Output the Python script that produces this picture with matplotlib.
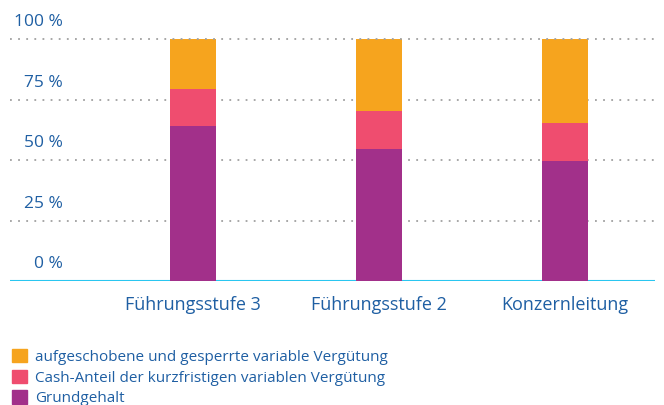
import matplotlib.pyplot as plt
from matplotlib.patches import Patch

plt.rcParams['font.family'] = ['Open Sans', 'DejaVu Sans']

categories = ['Führungsstufe 3', 'Führungsstufe 2', 'Konzernleitung']
grundgehalt = [64.0, 54.5, 49.6]
cash_anteil = [15.3, 15.7, 15.7]
aufgeschoben = [20.7, 29.8, 34.7]
series_labels = ['Grundgehalt',
                 'Cash-Anteil der kurzfristigen variablen Vergütung',
                 'aufgeschobene und gesperrte variable Vergütung']
yticks = [0, 25, 50, 75, 100]
ytick_labels = ['0 %', '25 %', '50 %', '75 %', '100 %']

c_purple = '#a2308a'
c_pink = '#ef4d6f'
c_orange = '#f6a41e'
c_text = '#1f5fa3'
c_axis = '#2ac6f0'

W, H = 664, 405
fig = plt.figure(figsize=(W / 100, H / 100), dpi=100)
ax = fig.add_axes([10 / W, 124 / H, 645 / W, 242 / H])

x = list(range(len(categories)))
bw = 0.247
bottom2 = [a + b for a, b in zip(grundgehalt, cash_anteil)]
ax.bar(x, grundgehalt, width=bw, color=c_purple, zorder=2)
ax.bar(x, cash_anteil, width=bw, bottom=grundgehalt, color=c_pink, zorder=2)
ax.bar(x, aufgeschoben, width=bw, bottom=bottom2, color=c_orange, zorder=2)

ax.set_xlim(-0.984, 2.484)
ax.set_ylim(0, 100)
for s in ax.spines.values():
    s.set_visible(False)
ax.set_yticks([])
ax.set_xticks(x)
ax.set_xticklabels(categories, fontsize=13, color=c_text)
ax.tick_params(axis='x', length=0, pad=11)

for yv in yticks[1:]:
    ax.axhline(yv, color='#a0a0a0', linestyle=(0, (1, 3.5)), linewidth=1.3,
               zorder=3 if yv == 100 else 1, clip_on=False)
ax.axhline(0, color=c_axis, linewidth=1.5, zorder=1)

trans = ax.get_yaxis_transform()
for yv, lab in zip(yticks, ytick_labels):
    ax.text(53 / 645, yv + 7.0, lab, transform=trans, ha='right', va='center',
            fontsize=12.5, color=c_text)

handles = [Patch(color=c_orange), Patch(color=c_pink), Patch(color=c_purple)]
fig.legend(handles, series_labels[::-1], loc='upper left',
           bbox_to_anchor=(12 / W, 1 - 349 / H), frameon=False,
           fontsize=11, labelcolor=c_text, handlelength=0.95, handleheight=0.95,
           handletextpad=0.55, labelspacing=0.32, borderpad=0, borderaxespad=0)

fig.savefig('out.png', dpi=100)
